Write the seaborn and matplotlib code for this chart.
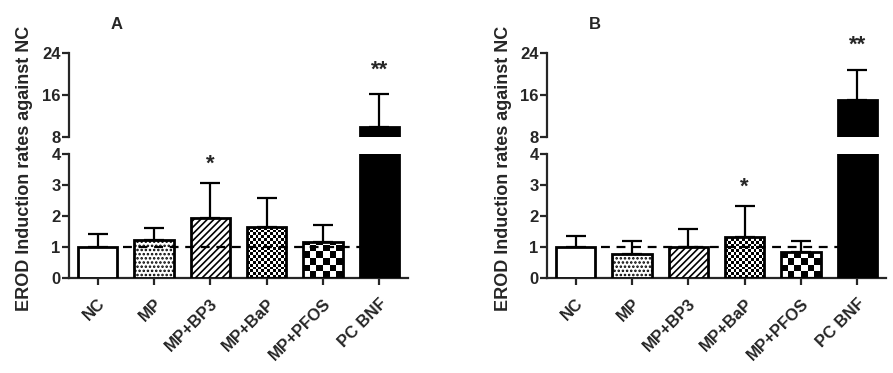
import numpy as np
import pandas as pd
import seaborn as sns
import matplotlib.pyplot as plt

# Data
groups = ["NC", "MP", "MP+BP3", "MP+BaP", "MP+PFOS", "PC BNF"]
mean_a = [1.0, 1.22, 1.92, 1.63, 1.15, 9.9]
err_a = [0.40, 0.40, 1.15, 0.95, 0.55, 6.2]
stars_a = ["", "", "*", "", "", "**"]
mean_b = [1.0, 0.76, 1.0, 1.33, 0.84, 14.9]
err_b = [0.36, 0.44, 0.58, 0.99, 0.36, 5.9]
stars_b = ["", "", "", "*", "", "**"]

sns.set_style("ticks")
plt.rcParams["font.family"] = ["Liberation Sans", "DejaVu Sans"]
plt.rcParams["font.weight"] = "bold"
plt.rcParams["hatch.linewidth"] = 1.2

hatches = ["", "....", "/////", None, None, ""]
checker_cols = {3: 14, 4: 6}


def add_checker(ax, patch, ncol):
    x0, w, h = patch.get_x(), patch.get_width(), patch.get_height()
    # make square cells in screen space
    p0 = ax.transData.transform((0, 0))
    p1 = ax.transData.transform((1, 1))
    ratio = (p1[0] - p0[0]) / (p1[1] - p0[1])
    xcell = w / ncol
    ycell = xcell * ratio
    nrow = int(np.ceil(h / ycell)) + 1
    img = np.add.outer(np.arange(nrow), np.arange(ncol)) % 2
    im = ax.imshow(img, cmap="gray_r", extent=(x0, x0 + w, 0, nrow * ycell),
                   origin="lower", interpolation="nearest", aspect="auto", zorder=2.5)
    im.set_clip_path(patch)


def draw_panel(ax_top, ax_bot, means, errs, stars, letter):
    df = pd.DataFrame({"group": groups, "value": means})
    x = np.arange(len(groups))
    for ax, lims in ((ax_top, (8, 24)), (ax_bot, (0, 4))):
        sns.barplot(data=df, x="group", y="value", ax=ax, color="white",
                    edgecolor="black", linewidth=2, width=0.7, errorbar=None)
        ax.set_xlim(-0.51, 5.51)
        ax.set_ylim(*lims)
        for i, patch in enumerate(ax.patches):
            patch.set_zorder(3)
            if i == 5:
                patch.set_facecolor("black")
            elif i in checker_cols:
                patch.set_facecolor("none")
                add_checker(ax, patch, checker_cols[i])
            else:
                patch.set_facecolor("white")
                patch.set_hatch(hatches[i])
        ax.errorbar(x, means, yerr=[np.zeros(len(x)), errs], fmt="none",
                    ecolor="black", elinewidth=1.6, capsize=7, capthick=1.6, zorder=2)
        ax.set_xlim(-0.51, 5.51)
        ax.set_ylim(*lims)
        ax.set_xlabel("")
        ax.set_ylabel("")
        for s in ("top", "right"):
            ax.spines[s].set_visible(False)
        for s in ("left", "bottom"):
            ax.spines[s].set_linewidth(1.6)
        ax.tick_params(direction="out", length=5, width=1.6, labelsize=12, pad=1)

    ax_top.spines["bottom"].set_visible(False)
    ax_top.tick_params(axis="x", bottom=False, labelbottom=False)
    ax_top.set_yticks([8, 16, 24])
    ax_bot.set_yticks([0, 1, 2, 3, 4])
    ax_bot.set_xticks(x)
    ax_bot.set_xticklabels(groups, rotation=45, ha="right", rotation_mode="anchor",
                           fontsize=12, fontweight="bold")
    ax_bot.tick_params(axis="x", pad=8)
    for lab in ax_top.get_yticklabels() + ax_bot.get_yticklabels():
        lab.set_fontweight("bold")

    # reference line at 1
    ax_bot.hlines(1, 0.45, 4.65, colors="black", linestyles=(0, (4, 3)),
                  linewidth=1.6, zorder=4)

    for i, s in enumerate(stars):
        if not s:
            continue
        top = means[i] + errs[i]
        if top > 4:
            ax_top.text(i, top + 4.6, s, ha="center", va="center",
                        fontsize=16, fontweight="bold", clip_on=False)
        else:
            ax_bot.text(i, top + 0.6, s, ha="center", va="center",
                        fontsize=16, fontweight="bold", clip_on=False)

    ax_top.text(0.14, 1.34, letter, transform=ax_top.transAxes, fontsize=12,
                fontweight="bold", ha="center", va="center")


fig = plt.figure(figsize=(8.93, 3.73), dpi=100)
W, H = 893, 373


def box(x0, x1, ytop, ybot):
    return [x0 / W, 1 - ybot / H, (x1 - x0) / W, (ybot - ytop) / H]


ax_a_top = fig.add_axes(box(69, 408, 52.7, 136.7))
ax_a_bot = fig.add_axes(box(69, 408, 154, 277.7))
ax_b_top = fig.add_axes(box(547, 886, 52.7, 136.7))
ax_b_bot = fig.add_axes(box(547, 886, 154, 277.7))

draw_panel(ax_a_top, ax_a_bot, mean_a, err_a, stars_a, "A")
draw_panel(ax_b_top, ax_b_bot, mean_b, err_b, stars_b, "B")

ylab = "EROD Induction rates against NC"
fig.text(25 / W, 1 - 168 / H, ylab, rotation=90, ha="center", va="center",
         fontsize=13, fontweight="bold")
fig.text(503 / W, 1 - 168 / H, ylab, rotation=90, ha="center", va="center",
         fontsize=13, fontweight="bold")

fig.savefig("out.png", dpi=100)
